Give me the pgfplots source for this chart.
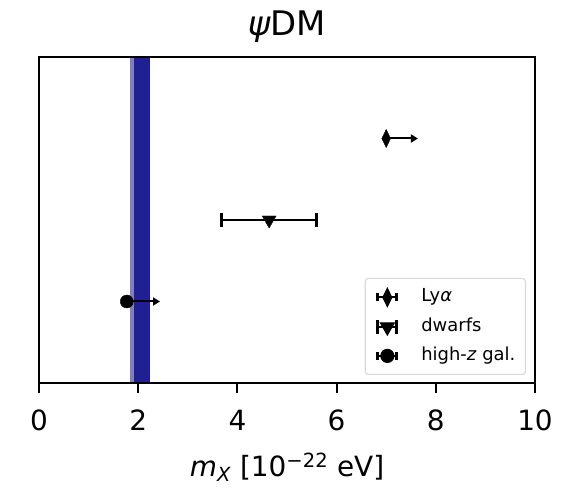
\documentclass[border=0pt]{standalone}
\usepackage{fontspec}
\setmainfont{DejaVu Sans}[ItalicFont={DejaVu Sans Oblique}]
\usepackage{pgfplots}
\pgfplotsset{compat=1.18}
\usetikzlibrary{arrows.meta}
\definecolor{bandlight}{RGB}{127,127,195}
\definecolor{banddark}{RGB}{32,32,148}
\begin{document}
\begin{tikzpicture}
\path[use as bounding box] (0,0) rectangle (564bp,488bp);
\begin{axis}[
  at={(39bp,105bp)}, anchor=south west,
  scale only axis, width=496bp, height=326bp,
  xmin=0, xmax=10, ymin=0, ymax=4,
  xtick={0,2,4,6,8,10}, ytick=\empty,
  axis on top,
  axis line style={line width=2bp},
  tick style={line width=2bp, black},
  tick align=outside, major tick length=10bp,
  xtick pos=bottom,
  /pgf/number format/assume math mode=true,
  xticklabel style={font=\fontsize{28}{28}\selectfont, anchor=base, yshift=-37bp, inner sep=0pt},
  xlabel={\textit{m}\textsubscript{\textit{X}} [10\textsuperscript{−22} eV]},
  xlabel style={font=\fontsize{28}{28}\selectfont, at={(axis description cs:0.5,0)}, anchor=base, yshift=-93bp, inner sep=0pt},
  title={\textit{ψ}DM},
  title style={font=\fontsize{34}{34}\selectfont, at={(axis description cs:0.5,1)}, anchor=base, yshift=16bp, inner sep=0pt},
  legend style={at={(rel axis cs:1,0)}, anchor=south east, xshift=-9bp, yshift=8bp,
    draw=black!15, line width=1.2bp, rounded corners=3bp,
    font=\fontsize{18}{18}\selectfont, inner xsep=10bp, inner ysep=10bp, row sep=12bp,
    nodes={inner sep=0bp, text height=13bp, text depth=4bp},
    /tikz/every odd column/.append style={column sep=22bp}},
  legend cell align=left,
]
% bands
\addplot[draw=none, fill=bandlight, forget plot] coordinates {(1.84,0) (2.24,0) (2.24,4) (1.84,4)};
\addplot[draw=none, fill=banddark, forget plot] coordinates {(1.92,0) (2.24,0) (2.24,4) (1.92,4)};
% arrows / error bars
\addplot[black, line width=2bp, -{Triangle[length=7bp,width=8bp]}, forget plot] coordinates {(7.0,3) (7.64,3)};
\addplot[black, line width=2bp, forget plot] coordinates {(3.67,2) (5.60,2)};
\addplot[black, only marks, mark=|, mark size=7bp, mark options={line width=3bp}, forget plot] coordinates {(3.67,2) (5.60,2)};
\addplot[black, line width=2bp, -{Triangle[length=7bp,width=8bp]}, forget plot] coordinates {(1.77,1) (2.44,1)};
% markers
\addplot[black, only marks, mark=diamond*, mark size=9bp, mark options={xscale=0.65, fill=black},
  legend image code/.code={
    \draw[sharp corners, line width=2bp] (0bp,0bp) -- (22bp,0bp);
    \draw[sharp corners, line width=3bp] (1.5bp,-4bp) -- (1.5bp,4bp) (20.5bp,-4bp) -- (20.5bp,4bp);
    \draw[sharp corners, mark=diamond*, mark size=9bp, mark options={xscale=0.65, fill=black}] plot coordinates {(11bp,0bp)};
  }] coordinates {(7.0,3)};
\addlegendentry{Ly\textit{α}}
\addplot[black, only marks, mark=triangle*, mark size=8bp, mark options={rotate=180, fill=black},
  legend image code/.code={
    \draw[sharp corners, line width=2bp] (0bp,0bp) -- (22bp,0bp);
    \draw[sharp corners, line width=3bp] (1.5bp,-7bp) -- (1.5bp,7bp) (20.5bp,-7bp) -- (20.5bp,7bp);
    \draw[sharp corners, mark=triangle*, mark size=8bp, mark options={rotate=180, fill=black}] plot coordinates {(11bp,0bp)};
  }] coordinates {(4.64,2)};
\addlegendentry{dwarfs}
\addplot[black, only marks, mark=*, mark size=6.5bp, mark options={fill=black},
  legend image code/.code={
    \draw[sharp corners, line width=2bp] (0bp,0bp) -- (22bp,0bp);
    \draw[sharp corners, line width=3bp] (1.5bp,-4bp) -- (1.5bp,4bp) (20.5bp,-4bp) -- (20.5bp,4bp);
    \draw[sharp corners, mark=*, mark size=6.5bp, mark options={fill=black}] plot coordinates {(11bp,0bp)};
  }] coordinates {(1.77,1)};
\addlegendentry{high-\textit{z} gal.}
\end{axis}
\end{tikzpicture}
\end{document}
